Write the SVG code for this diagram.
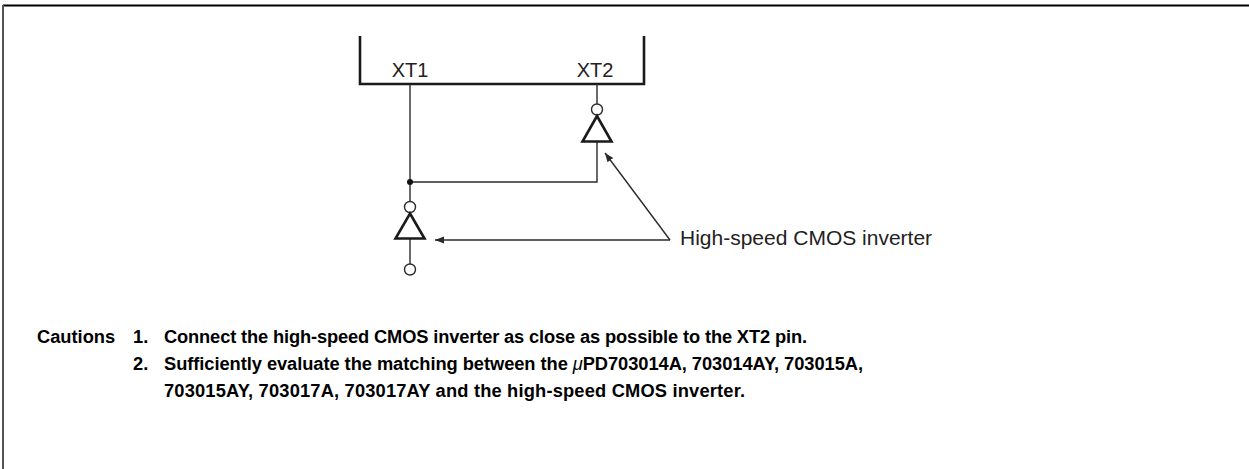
<svg xmlns="http://www.w3.org/2000/svg" width="1249" height="469" viewBox="0 0 1249 469">
<style>
.thin{fill:none;stroke:#2a2a2a;stroke-width:1.4}
.thick{fill:none;stroke:#1a1a1a;stroke-width:2.6}
.pin{font-family:"Liberation Sans",Arial,sans-serif;font-size:20px;fill:#222}
.lbl{font-family:"Liberation Sans",Arial,sans-serif;font-size:21px;fill:#222}
.cau{font-family:"Liberation Sans",Arial,sans-serif;font-size:18.3px;font-weight:bold;fill:#000}
.bub{fill:#fff;stroke:#2a2a2a;stroke-width:1.4}
</style>
<defs>
<marker id="ah" viewBox="0 0 10 10" refX="10" refY="5" markerWidth="9" markerHeight="9" markerUnits="userSpaceOnUse" orient="auto">
<path d="M0,1 L10,5 L0,9 Z" fill="#2a2a2a"/>
</marker>
</defs>
<rect width="1249" height="469" fill="#fff"/>
<g id="frame">
<line x1="3" y1="5.5" x2="1249" y2="5.5" stroke="#000" stroke-width="2.2"/>
<line x1="3" y1="5" x2="3" y2="469" stroke="#555" stroke-width="2"/>
</g>
<g id="chip">
<path class="thick" d="M360,36 V84 H644 V36"/>
<text class="pin" x="410" y="77" text-anchor="middle">XT1</text>
<text class="pin" x="595" y="77" text-anchor="middle">XT2</text>
</g>
<g id="connectors">
<line class="thin" x1="410" y1="84" x2="410" y2="201"/>
<polyline class="thin" points="410,182 597,182 597,142"/>
<line class="thin" x1="597" y1="84" x2="597" y2="104"/>
<line class="thin" x1="410" y1="238" x2="410" y2="264"/>
<circle cx="410" cy="182" r="3" fill="#111"/>
<polyline class="thin" points="670,240 605,153" marker-end="url(#ah)"/>
<line class="thin" x1="670" y1="240" x2="435" y2="240" marker-end="url(#ah)"/>
</g>
<g id="inverter-xt2">
<circle class="bub" cx="597" cy="109.5" r="5.5"/>
<path class="thick" d="M597,116 L611.5,141.5 H582.5 Z"/>
</g>
<g id="inverter-xt1">
<circle class="bub" cx="410" cy="207" r="5.5"/>
<path class="thick" d="M410,213.5 L424.5,238.5 H395.5 Z"/>
<circle class="bub" cx="410" cy="269.5" r="5.5"/>
</g>
<g id="label">
<text class="lbl" x="680" y="245">High-speed CMOS inverter</text>
</g>
<g id="cautions">
<text class="cau" x="37" y="343">Cautions</text>
<text class="cau" x="133" y="343">1.</text>
<text class="cau" x="164" y="343" textLength="643">Connect the high-speed CMOS inverter as close as possible to the XT2 pin.</text>
<text class="cau" x="133" y="370">2.</text>
<text class="cau" x="164" y="370" textLength="699">Sufficiently evaluate the matching between the <tspan font-style="italic" font-weight="normal">μ</tspan>PD703014A, 703014AY, 703015A,</text>
<text class="cau" x="164" y="397" textLength="581">703015AY, 703017A, 703017AY and the high-speed CMOS inverter.</text>
</g>
</svg>
